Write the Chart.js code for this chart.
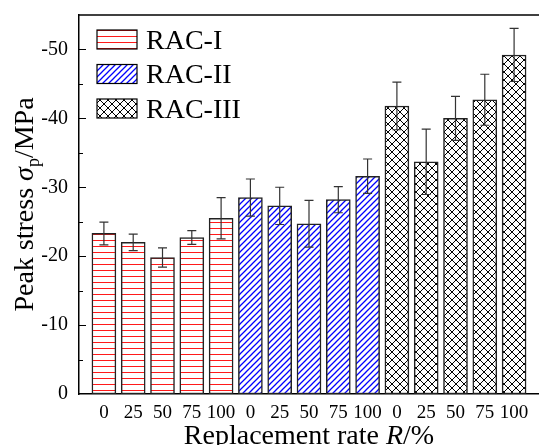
<!DOCTYPE html>
<html>
<head>
<meta charset="utf-8">
<script src="https://cdn.jsdelivr.net/npm/chart.js@4.4.1/dist/chart.umd.min.js"></script>
<style>
html, body { margin: 0; padding: 0; background: #fff; }
</style>
</head>
<body>
<canvas id="peakChart" width="539" height="445"></canvas>
<script>
// 數據
const rates = ["0", "25", "50", "75", "100"];
const seriesNames = ["RAC-I", "RAC-II", "RAC-III"];
const racI = [23.3, 22.0, 19.8, 22.7, 25.5];
const racIErr = [1.65, 1.2, 1.4, 1.0, 3.0];
const racII = [28.5, 27.3, 24.7, 28.2, 31.6];
const racIIErr = [2.7, 2.7, 3.4, 1.9, 2.5];
const racIII = [41.8, 33.7, 40.0, 42.7, 49.2];
const racIIIErr = [3.45, 4.75, 3.2, 3.7, 3.85];

const serif = "'Liberation Serif', 'Times New Roman', serif";
const canvas = document.getElementById("peakChart");
const ctx = canvas.getContext("2d");

// 填充圖案
function makePattern(kind) {
    const tile = document.createElement("canvas");
    const t = tile.getContext("2d");
    const s = kind === "x" ? 8 : 6;
    tile.width = s; tile.height = s;
    t.fillStyle = "#fff";
    t.fillRect(0, 0, s, s);
    if (kind === "h") {
        t.fillStyle = "#ff1a1a";
        t.fillRect(0, 0, s, 1);
    } else {
        t.strokeStyle = kind === "d" ? "#0000ff" : "#000";
        t.lineWidth = kind === "d" ? 1.3 : 1;
        t.beginPath();
        t.moveTo(-1, s + 1); t.lineTo(s + 1, -1);
        t.moveTo(-1, 1); t.lineTo(1, -1);
        t.moveTo(s - 1, s + 1); t.lineTo(s + 1, s - 1);
        if (kind === "x") {
            t.moveTo(-1, -1); t.lineTo(s + 1, s + 1);
            t.moveTo(-1, s - 1); t.lineTo(1, s + 1);
            t.moveTo(s - 1, -1); t.lineTo(s + 1, 1);
        }
        t.stroke();
    }
    return ctx.createPattern(tile, "repeat");
}

const groups = [racI, racII, racIII];
const errs = [racIErr, racIIErr, racIIIErr];
const fills = [makePattern("h"), makePattern("d"), makePattern("x")];

const datasets = groups.map((vals, g) => ({
    label: seriesNames[g],
    data: vals.map((v, i) => ({ x: g * rates.length + i, y: v })),
    errors: errs[g],
    backgroundColor: fills[g],
    borderColor: "#222",
    borderWidth: 1.5,
    borderSkipped: false,
    barThickness: 24,
    grouped: false
}));

// 誤差棒、刻度、圖例、軸標題
const decorations = {
    id: "decorations",
    afterDatasetsDraw(chart) {
        const c = chart.ctx;
        const a = chart.chartArea;
        const y = chart.scales.y;
        c.save();
        c.strokeStyle = "#333";
        c.lineWidth = 1.2;
        chart.data.datasets.forEach((ds, d) => {
            chart.getDatasetMeta(d).data.forEach((bar, i) => {
                const v = ds.data[i].y, e = ds.errors[i];
                const top = y.getPixelForValue(v + e);
                const bot = y.getPixelForValue(v - e);
                c.beginPath();
                c.moveTo(bar.x, top); c.lineTo(bar.x, bot);
                c.moveTo(bar.x - 4.5, top); c.lineTo(bar.x + 4.5, top);
                c.moveTo(bar.x - 4.5, bot); c.lineTo(bar.x + 4.5, bot);
                c.stroke();
            });
        });

        // 上框線與向內刻度
        c.strokeStyle = "#000";
        c.lineWidth = 1.5;
        c.beginPath();
        c.moveTo(a.left - 0.75, a.top); c.lineTo(a.right, a.top);
        c.stroke();
        c.lineWidth = 1.2;
        c.beginPath();
        for (let v = 5; v < y.max; v += 5) {
            const py = Math.round(y.getPixelForValue(v)) + 0.5;
            c.moveTo(a.left, py);
            c.lineTo(a.left + (v % 10 === 0 ? 7 : 4), py);
        }
        c.stroke();

        // 圖例
        chart.data.datasets.forEach((ds, d) => {
            const bx = a.left + 18, by = a.top + 15 + d * 34.5;
            c.fillStyle = ds.backgroundColor;
            c.fillRect(bx, by, 40, 19);
            c.strokeStyle = "#000";
            c.lineWidth = 1.2;
            c.strokeRect(bx, by, 40, 19);
            c.fillStyle = "#000";
            c.font = "28px " + serif;
            c.textBaseline = "alphabetic";
            c.fillText(ds.label, bx + 49, by + 18.5);
        });

        // 軸標題
        drawParts(c, [
            ["Replacement rate ", "", 28, 0],
            ["R", "italic ", 28, 0],
            ["/%", "", 28, 0]
        ], (a.left + a.right) / 2, 444, 0);
        drawParts(c, [
            ["Peak stress ", "", 28, 0],
            ["σ", "italic ", 28, 0],
            ["p", "", 18, 6],
            ["/MPa", "", 28, 0]
        ], 33, (a.top + a.bottom) / 2, -Math.PI / 2);
        c.restore();
    }
};

function drawParts(c, parts, cx, cy, angle) {
    c.save();
    c.translate(cx, cy);
    c.rotate(angle);
    c.fillStyle = "#000";
    c.textBaseline = "alphabetic";
    let total = 0;
    const widths = parts.map(p => {
        c.font = p[1] + p[2] + "px " + serif;
        const w = c.measureText(p[0]).width;
        total += w;
        return w;
    });
    let x = -total / 2;
    parts.forEach((p, i) => {
        c.font = p[1] + p[2] + "px " + serif;
        c.fillText(p[0], x, p[3]);
        x += widths[i];
    });
    c.restore();
}

const chart = new Chart(ctx, {
    type: "bar",
    data: { datasets },
    options: {
        responsive: false,
        animation: false,
        devicePixelRatio: 1,
        layout: { padding: { top: 15, right: 0, left: 0, bottom: 0 } },
        plugins: {
            legend: { display: false },
            tooltip: { enabled: false }
        },
        scales: {
            x: {
                type: "linear",
                min: -0.85,
                max: 14.85,
                offset: false,
                afterBuildTicks: s => {
                    s.ticks = groups.flatMap((vals, g) => vals.map((_, i) => ({ value: g * rates.length + i })));
                },
                afterFit: s => { s.height = 51; },
                ticks: {
                    callback: v => rates[v % rates.length],
                    autoSkip: false,
                    maxRotation: 0,
                    padding: 0,
                    color: "#000",
                    font: { family: serif, size: 19 }
                },
                grid: { display: false },
                border: { display: true, color: "#000", width: 1.5 }
            },
            y: {
                min: 0,
                max: 55,
                afterFit: s => { s.width = 79; },
                ticks: {
                    stepSize: 10,
                    includeBounds: false,
                    callback: v => v === 0 ? "0" : "-" + v,
                    padding: 3,
                    color: "#000",
                    font: { family: serif, size: 20 }
                },
                grid: { display: false },
                border: { display: true, color: "#000", width: 1.5 }
            }
        }
    },
    plugins: [decorations]
});
</script>
</body>
</html>
